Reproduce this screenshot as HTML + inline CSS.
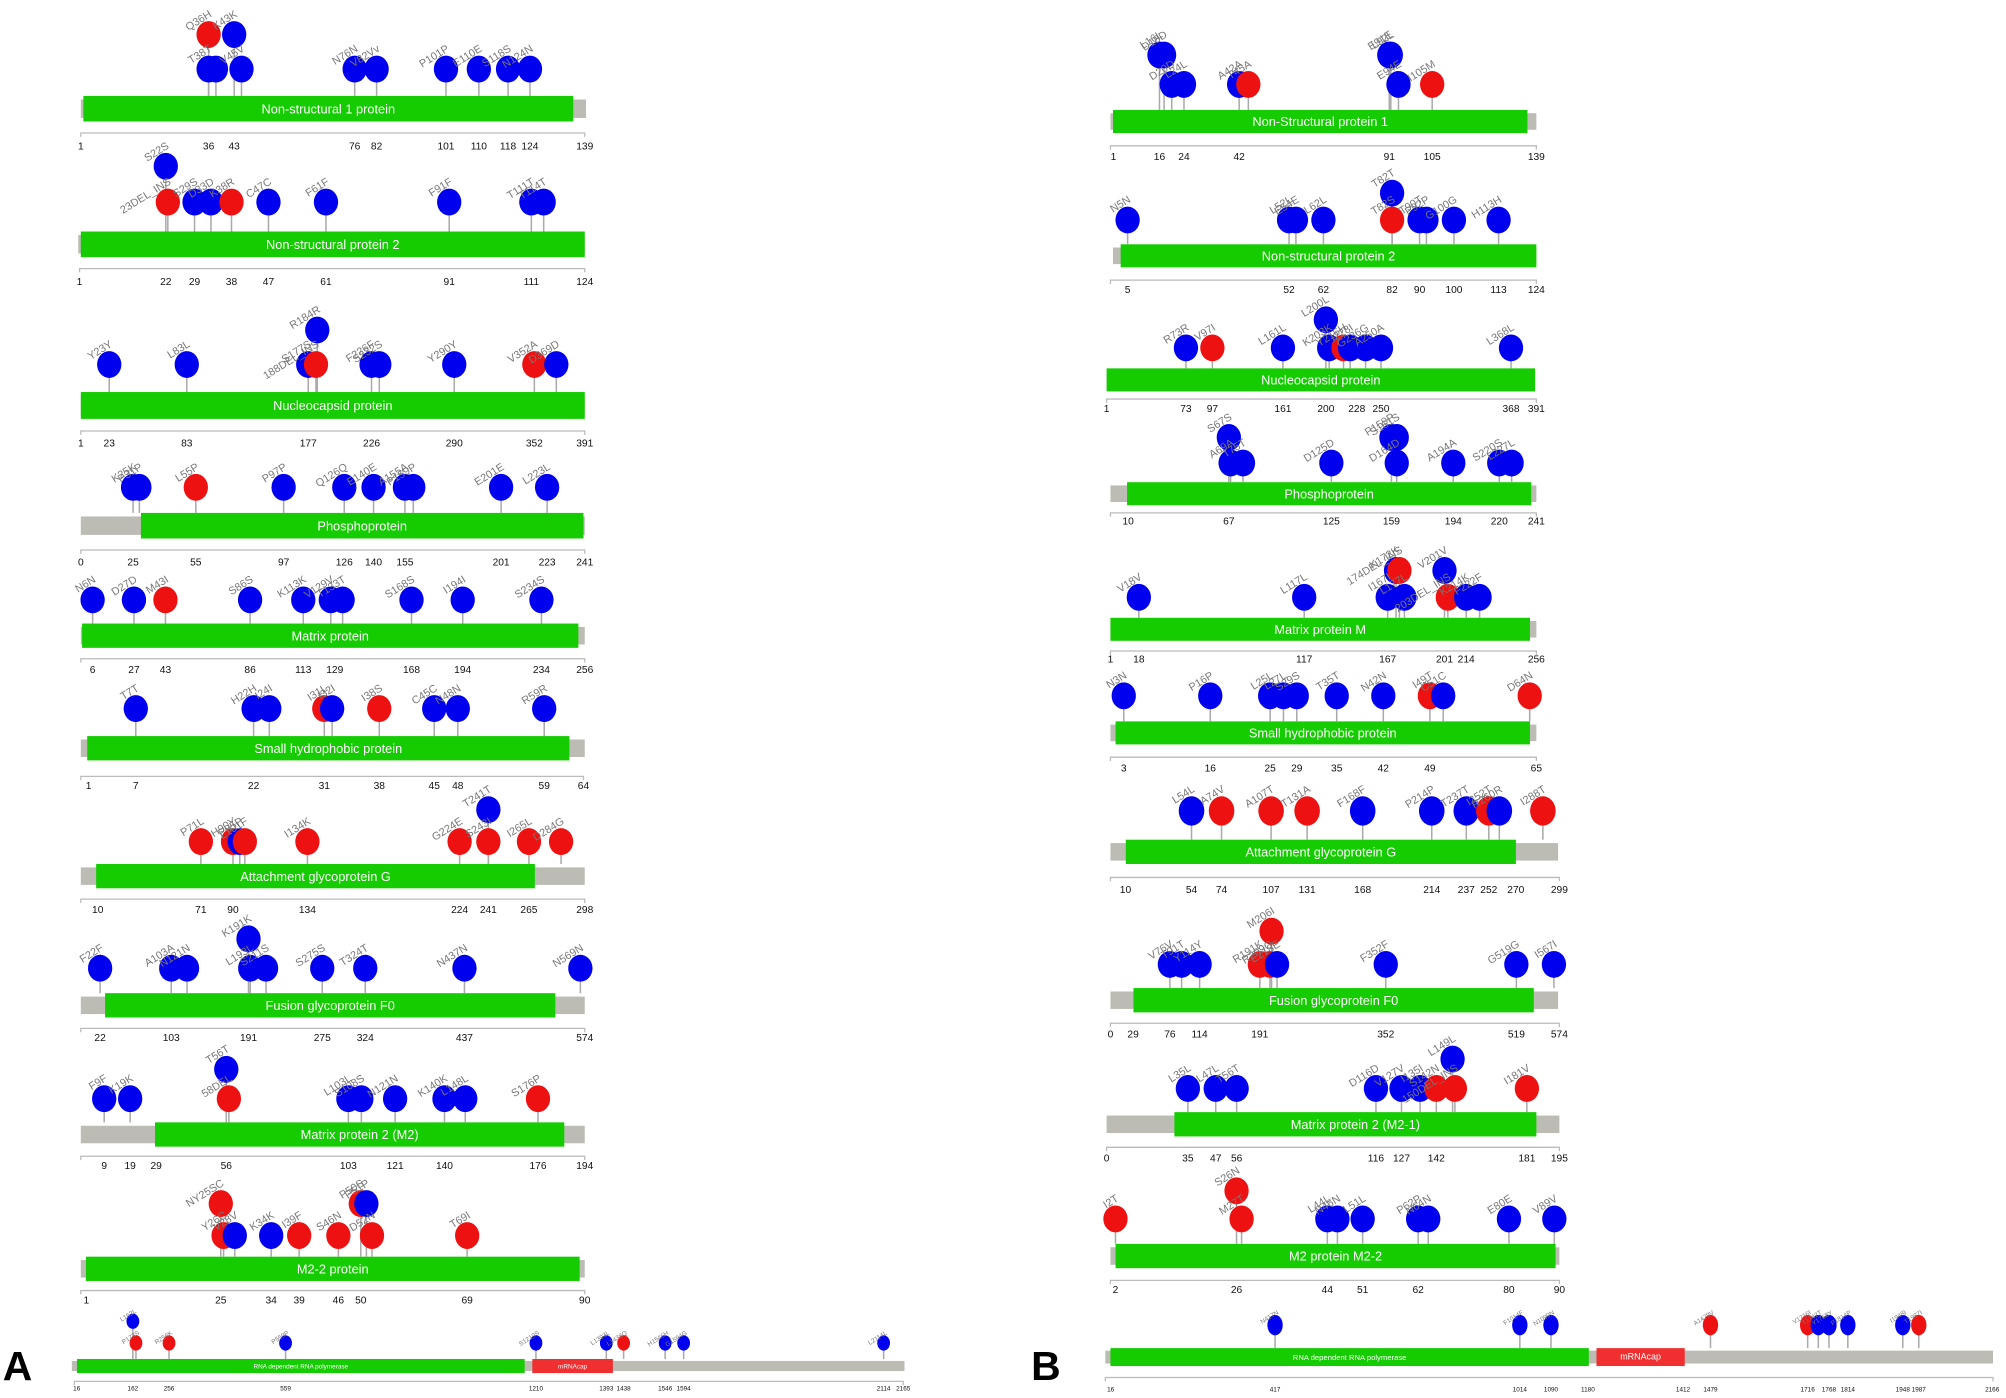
<!DOCTYPE html>
<html><head><meta charset="utf-8"><style>html,body{margin:0;padding:0;background:#fff}svg{display:block}</style></head>
<body>
<svg id="s" xmlns="http://www.w3.org/2000/svg" width="2006" height="1398" viewBox="0 0 1568 1093" font-family="Liberation Sans, sans-serif"></svg>
<script>
var B='#0000ee',R='#ee1111';
var T=[
{g:[63,458],G:[65,448],by:85,bh:20,name:'Non-structural 1 protein',ax:[63,457],pr:[1,139],ay:104,ty:117,lo:54,hi:27,
 ticks:[1,36,43,76,82,101,110,118,124,139],
 m:[['Q36H',36,R,1],['K43K',43,B,1],['T38T',36,B,0],['',38,B,0],['V45V',45,B,0],['N76N',76,B,0],['V82Vv',82,B,0],['P101P',101,B,0],['E110E',110,B,0],['S118S',118,B,0],['N124N',124,B,0]]},
{g:[61,457],G:[63,457],by:191,bh:20,name:'Non-structural protein 2',ax:[62,457],pr:[1,124],ay:210,ty:223,lo:158,hi:130,
 ticks:[1,22,29,38,47,61,91,111,124],
 m:[['S22S',22,B,1],['23DEL_INS',22.5,R,0],['S29S',29,B,0],['D33D',33,B,0],['K38R',38,R,0],['C47C',47,B,0],['F61F',61,B,0],['F91F',91,B,0],['T111T',111,B,0],['T114T',114,B,0]]},
{g:[63,457],G:[63,457],by:317,bh:21,name:'Nucleocapsid protein',ax:[63,457],pr:[1,391],ay:337,ty:349,lo:285,hi:258,
 ticks:[1,23,83,177,226,290,352,391],
 m:[['Y23Y',23,B,0],['L83L',83,B,0],['S177S',177,B,0],['R184R',184,B,1],['188DEL_INS',183,R,0],['F226F',226,B,0],['S232S',232,B,0],['Y290Y',290,B,0],['V352A',352,R,0],['D369D',369,B,0]]},
{g:[63,457],G:[110,456],by:411,bh:20,name:'Phosphoprotein',ax:[63,457],pr:[0,241],ay:430,ty:442,lo:381,hi:360,
 ticks:[0,25,55,97,126,140,155,201,223,241],
 m:[['K25K',25,B,0],['P31P',28,B,0],['L55P',55,R,0],['P97P',97,B,0],['Q126Q',126,B,0],['E140E',140,B,0],['A155A',155,B,0],['P159P',159,B,0],['E201E',201,B,0],['L223L',223,B,0]]},
{g:[63,457],G:[64,452],by:497,bh:19,name:'Matrix protein',ax:[63,457],pr:[0,256],ay:515,ty:526,lo:469,hi:450,
 ticks:[6,27,43,86,113,129,168,194,234,256],
 m:[['N6N',6,B,0],['D27D',27,B,0],['M43I',43,R,0],['S86S',86,B,0],['K113K',113,B,0],['V129V',127,B,0],['T133T',133,B,0],['S168S',168,B,0],['I194I',194,B,0],['S234S',234,B,0]]},
{g:[63,457],G:[68,445],by:585,bh:19,name:'Small hydrophobic protein',ax:[63,456],pr:[0,64],ay:607,ty:617,lo:554,hi:530,
 ticks:[1,7,22,31,38,45,48,59,64],
 m:[['T7T',7,B,0],['H22H',22,B,0],['I24I',24,B,0],['I31L',31,R,0],['I32I',32,B,0],['I38S',38,R,0],['C45C',45,B,0],['N48N',48,B,0],['R59R',59,B,0]]},
{g:[63,457],G:[75,418],by:685,bh:19,name:'Attachment glycoprotein G',ax:[63,457],pr:[0,298],ay:703,ty:714,lo:658,hi:633,
 ticks:[10,71,90,134,224,241,265,298],
 m:[['P71L',71,R,0],['H90Y',90,R,0],['P95P',94,B,0],['L101F',97,R,0],['I134K',134,R,0],['G224E',224,R,0],['T241T',241,B,1],['S243I',241,R,0],['I265L',265,R,0],['D284G',284,R,0]]},
{g:[63,457],G:[82,434],by:786,bh:19,name:'Fusion glycoprotein F0',ax:[63,457],pr:[0,574],ay:804,ty:814,lo:757,hi:734,
 ticks:[22,103,191,275,324,437,574],
 m:[['F22F',22,B,0],['A103A',103,B,0],['N121N',121,B,0],['K191K',191,B,1],['L193L',193,B,0],['S211S',211,B,0],['S275S',275,B,0],['T324T',324,B,0],['N437N',437,B,0],['N569N',569,B,0]]},
{g:[63,457],G:[121,441],by:887,bh:19,name:'Matrix protein 2 (M2)',ax:[63,457],pr:[0,194],ay:904,ty:914,lo:859,hi:836,
 ticks:[9,19,29,56,103,121,140,176,194],
 m:[['F9F',9,B,0],['K19K',19,B,0],['T56T',56,B,1],['58DEL',57,R,0],['L103L',103,B,0],['S108S',108,B,0],['N121N',121,B,0],['K140K',140,B,0],['L148L',148,B,0],['S176P',176,R,0]]},
{g:[63,457],G:[67,453],by:992,bh:19,name:'M2-2 protein',ax:[63,457],pr:[0,90],ay:1009,ty:1019,lo:966,hi:941,
 ticks:[1,25,34,39,46,50,69,90],
 m:[['NY25SC',25,R,1],['Y26C',25.5,R,0],['V28V',27.5,B,0],['K34K',34,B,0],['I39F',39,R,0],['S46N',46,R,0],['P50S',50,R,1],['P51P',51,B,1],['D52N',52,R,0],['T69I',69,R,0]]},
{g:[56,707],G:[60,410],Rd:[416,479],by:1068,bh:11,name:'RNA dependent RNA polymerase',ax:[58,706],pr:[10,2165],ay:1080,ty:1087,lo:1050,hi:1033,small:1,
 ticks:[16,162,256,559,1210,1393,1438,1546,1594,2114,2165],
 m:[['L162L',162,B,1],['P173S',170,R,0],['R256K',256,R,0],['P559P',559,B,0],['S1210S',1210,B,0],['L1393L',1393,B,0],['L1438Q',1438,R,0],['H1546H',1546,B,0],['G1594G',1594,B,0],['L2114L',2114,B,0]]},
{g:[868,1201],G:[870,1194],by:95,bh:18,name:'Non-Structural protein 1',ax:[868,1201],pr:[0,139],ay:114,ty:125,lo:66,hi:43,
 ticks:[1,16,24,42,91,105,139],
 m:[['L16L',16,B,1],['D18D',17.5,B,1],['D20D',20,B,0],['L24L',24,B,0],['A42A',42,B,0],['T45A',45,R,0],['E91E',91,B,1],['L92L',91.5,B,1],['E94E',94,B,0],['I105M',105,R,0]]},
{g:[870,1201],G:[876,1201],by:200,bh:18,name:'Non-structural protein 2',ax:[868,1201],pr:[0,124],ay:219,ty:229,lo:172,hi:151,
 ticks:[5,52,62,82,90,100,113,124],
 m:[['N5N',5,B,0],['L52L',52,B,0],['E54E',54,B,0],['L62L',62,B,0],['T82T',82,B,1],['T82S',82,R,0],['T90T',90,B,0],['P92P',92,B,0],['G100G',100,B,0],['H113H',113,B,0]]},
{g:[865,1200],G:[865,1200],by:297,bh:18,name:'Nucleocapsid protein',ax:[865,1201],pr:[1,391],ay:312,ty:322,lo:272,hi:250,
 ticks:[1,73,97,161,200,228,250,368,391],
 m:[['R73R',73,B,0],['V97I',97,R,0],['L161L',161,B,0],['L200L',200,B,1],['K203K',203,B,0],['Y216H',216,R,0],['I228I',222,B,0],['G236G',236,B,0],['A250A',250,B,0],['L368L',368,B,0]]},
{g:[868,1201],G:[881,1197],by:386,bh:18,name:'Phosphoprotein',ax:[868,1201],pr:[0,241],ay:401,ty:410,lo:362,hi:342,
 ticks:[10,67,125,159,194,220,241],
 m:[['S67S',67,B,1],['A69A',68,B,0],['T75T',75,B,0],['D125D',125,B,0],['P159P',159,B,1],['S161S',162,B,1],['D164D',162,B,0],['A194A',194,B,0],['S220S',220,B,0],['L227L',227,B,0]]},
{g:[868,1201],G:[868,1196],by:492,bh:18,name:'Matrix protein M',ax:[868,1201],pr:[1,256],ay:509,ty:518,lo:467,hi:446,
 ticks:[1,18,117,167,201,214,256],
 m:[['V18V',18,B,0],['L117L',117,B,0],['K172K',172,B,1],['174DEL_INS',174,R,1],['I167I',167,B,0],['L177L',177,B,0],['V201V',201,B,1],['203DEL_INS',203,R,0],['K214K',214,B,0],['F222F',222,B,0]]},
{g:[868,1201],G:[872,1196],by:573,bh:18,name:'Small hydrophobic protein',ax:[868,1201],pr:[1,65],ay:592,ty:603,lo:544,hi:520,
 ticks:[3,16,25,29,35,42,49,65],
 m:[['N3N',3,B,0],['P16P',16,B,0],['L25L',25,B,0],['L27L',27,B,0],['S29S',29,B,0],['T35T',35,B,0],['N42N',42,B,0],['I49T',49,R,0],['C51C',51,B,0],['D64N',64,R,0]]},
{g:[868,1218],G:[880,1185],by:666,bh:19,name:'Attachment glycoprotein G',ax:[868,1219],pr:[0,299],ay:686,ty:698,lo:634,hi:610,big:1,
 ticks:[10,54,74,107,131,168,214,237,252,270,299],
 m:[['L54L',54,B,0],['A74V',74,R,0],['A107T',107,R,0],['T131A',131,R,0],['F168F',168,B,0],['P214P',214,B,0],['T237T',237,B,0],['I252T',252,R,0],['R260R',259,B,0],['I288T',288,R,0]]},
{g:[868,1218],G:[886,1199],by:782,bh:19,name:'Fusion glycoprotein F0',ax:[868,1219],pr:[0,574],ay:800,ty:811,lo:754,hi:728,
 ticks:[0,29,76,114,191,352,519,574],
 m:[['V76V',76,B,0],['T91T',91,B,0],['Y114Y',114,B,0],['R191K',191,R,0],['M206I',206,R,1],['R209Q',204,R,0],['E218E',213,B,0],['F352F',352,B,0],['G519G',519,B,0],['I567I',567,B,0]]},
{g:[865,1219],G:[918,1201],by:879,bh:19,name:'Matrix protein 2 (M2-1)',ax:[865,1219],pr:[0,195],ay:897,ty:908,lo:851,hi:828,
 ticks:[0,35,47,56,116,127,142,181,195],
 m:[['L35L',35,B,0],['L47L',47,B,0],['T56T',56,B,0],['D116D',116,B,0],['V127V',127,B,0],['I135I',135,B,0],['S142N',142,R,0],['L149L',149,B,1],['150DEL_INS',150,R,0],['I181V',181,R,0]]},
{g:[868,1219],G:[872,1216],by:982,bh:19,name:'M2 protein M2-2',ax:[868,1219],pr:[1,90],ay:1001,ty:1011,lo:953,hi:931,
 ticks:[2,26,44,51,62,80,90],
 m:[['I2T',2,R,0],['S26N',26,R,1],['M27T',27,R,0],['L44L',44,B,0],['N46N',46,B,0],['L51L',51,B,0],['P62P',62,B,0],['N64N',64,B,0],['E80E',80,B,0],['V89V',89,B,0]]},
{g:[864,1558],G:[868,1242],Rd:[1248,1317],by:1061,bh:14,name:'RNA dependent RNA polymerase',ax:[864,1558],pr:[3,2168],ay:1077,ty:1088,lo:1036,hi:1016,small:2,
 ticks:[16,417,1014,1090,1180,1412,1479,1716,1768,1814,1948,1987,2166],
 m:[['N417N',417,B,0],['F1014F',1014,B,0],['N1090N',1090,B,0],['A1479V',1479,R,0],['V1716I',1716,R,0],['T1742T',1742,B,0],['Y1768Y',1768,B,0],['P1814P',1814,B,0],['I1948I',1948,B,0],['T1987I',1987,R,0]]}
];
var o='';
function X(t,p){return t.ax[0]+(p-t.pr[0])/(t.pr[1]-t.pr[0])*(t.ax[1]-t.ax[0]);}
T.forEach(function(t){
 var gh=t.bh*0.72;
 o+='<rect x="'+t.g[0]+'" y="'+(t.by-gh/2)+'" width="'+(t.g[1]-t.g[0])+'" height="'+gh+'" fill="#bcbcb4"/>';
 o+='<rect x="'+t.G[0]+'" y="'+(t.by-t.bh/2)+'" width="'+(t.G[1]-t.G[0])+'" height="'+t.bh+'" fill="#14cc00"/>';
 if(t.Rd)o+='<rect x="'+t.Rd[0]+'" y="'+(t.by-t.bh/2)+'" width="'+(t.Rd[1]-t.Rd[0])+'" height="'+t.bh+'" fill="#f03030"/><text x="'+((t.Rd[0]+t.Rd[1])/2)+'" y="'+(t.by+2)+'" font-size="'+(t.small==1?5:7)+'" fill="#fff" text-anchor="middle">mRNAcap</text>';
 var fsN=t.small?(t.small==1?5:6):10;
 o+='<text x="'+((t.G[0]+t.G[1])/2)+'" y="'+(t.by+fsN*0.36)+'" font-size="'+fsN+'" fill="#fff" text-anchor="middle">'+t.name+'</text>';
 o+='<path d="M'+t.ax[0]+' '+(t.ay+3)+'V'+t.ay+'H'+t.ax[1]+'V'+(t.ay+3)+'" stroke="#bbb" stroke-width="1" fill="none"/>';
 var fsT=t.small?5:8;
 t.ticks.forEach(function(p){o+='<text x="'+X(t,p)+'" y="'+t.ty+'" font-size="'+fsT+'" fill="#111" text-anchor="middle">'+p+'</text>';});
 var rx=t.small?(t.small==1?5:6):9.5, ry=t.small?(t.small==1?6:8):10.5;
 if(t.big){rx=10;ry=11.5;}
 var top=t.by-t.bh/2;
 t.m.forEach(function(m){var x=X(t,m[1]),cy=m[3]?t.hi:t.lo;
  o+='<line x1="'+x+'" y1="'+top+'" x2="'+x+'" y2="'+cy+'" stroke="#aaa" stroke-width="1.2"/>';});
 t.m.forEach(function(m){var x=X(t,m[1]),cy=m[3]?t.hi:t.lo;
  o+='<ellipse cx="'+x+'" cy="'+cy+'" rx="'+rx+'" ry="'+ry+'" fill="'+m[2]+'"/>';
  var fs=t.small?5:8.5, lx=x+3, ly=cy-ry-(t.small?1:4);
  if(m[0])o+='<text transform="translate('+lx+','+ly+') rotate(-32)" font-size="'+fs+'" fill="#777" text-anchor="end">'+m[0]+'</text>';});
});
o+='<text x="2" y="1079" font-size="32" font-weight="bold" fill="#000">A</text>';
o+='<text x="806" y="1079" font-size="32" font-weight="bold" fill="#000">B</text>';
document.getElementById('s').innerHTML=o;
</script>
</body></html>
